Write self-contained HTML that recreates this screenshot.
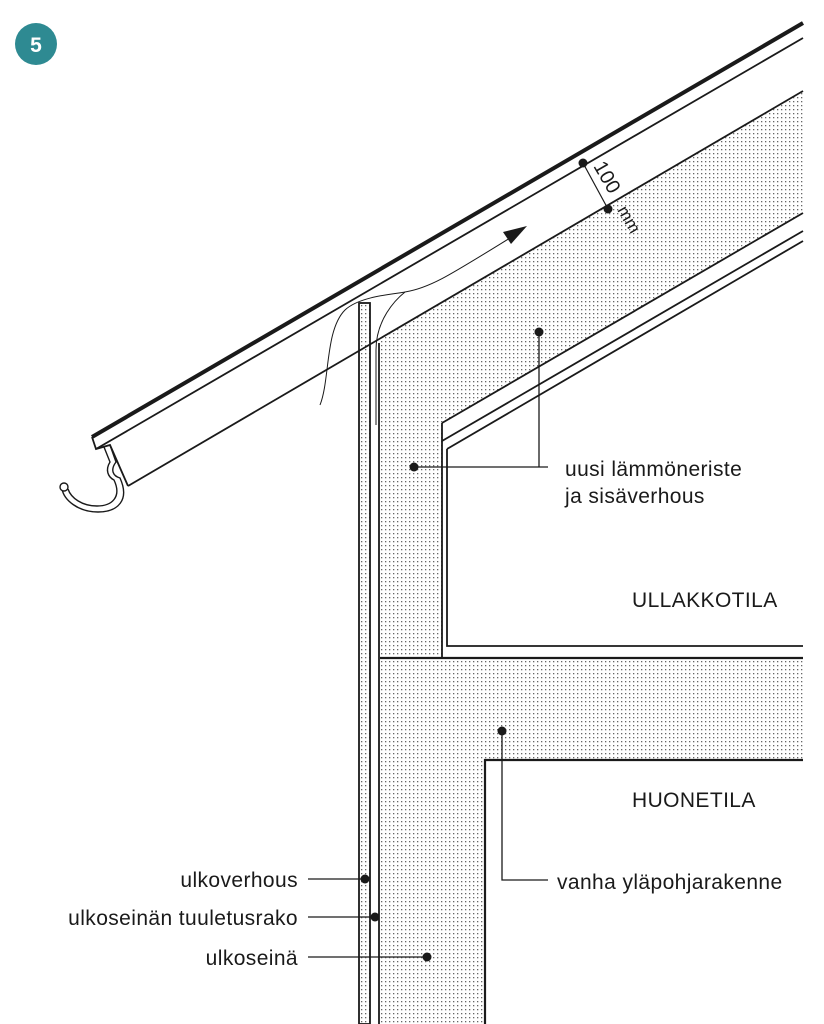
<!DOCTYPE html>
<html><head><meta charset="utf-8"><style>
html,body{margin:0;padding:0;background:#fff}
svg{display:block}
text{font-family:"Liberation Sans",Arial,sans-serif;fill:#1a1a1a}
</style></head><body>
<svg width="824" height="1024" viewBox="0 0 824 1024" xmlns="http://www.w3.org/2000/svg">
<defs>
<pattern id="dots" width="4" height="4" patternUnits="userSpaceOnUse">
<rect x="1" y="1" width="1.3" height="1.3" fill="#666"/>
</pattern>
</defs>
<circle cx="36" cy="44" r="21" fill="#2e8a92"/>
<text x="36" y="52" text-anchor="middle" font-size="21" font-weight="bold" style="fill:#fff">5</text>

<path d="M380,339 L803,91 L803,213 L442,423 L442,658 L803,658 L803,760 L485,760 L485,1024 L380,1024 Z" fill="url(#dots)"/>
<rect x="359" y="303" width="11" height="721" fill="url(#dots)"/>

<g stroke="#1a1a1a" fill="none" stroke-width="1.8">
<line x1="92" y1="437" x2="803" y2="23" stroke-width="4"/>
<line x1="96" y1="449" x2="803" y2="38"/>
<path d="M92,437 L96,449 L110,445 L128,486"/>
<line x1="128" y1="486" x2="803" y2="91"/>
<line x1="442" y1="423" x2="803" y2="213"/>
<line x1="442" y1="441" x2="803" y2="231"/>
<line x1="447" y1="449" x2="803" y2="241"/>
<line x1="442" y1="423" x2="442" y2="658"/>
<path d="M447,449 L447,646 L803,646"/>
<line x1="380" y1="658" x2="803" y2="658" stroke-width="2.2"/>
<path d="M485,1024 L485,760 L803,760" stroke-width="2.2"/>
<rect x="359" y="303" width="11" height="721"/>
<line x1="379" y1="343" x2="379" y2="1024"/>
<path d="M376,425 L376,350 C376,320 395,300 405,292" stroke-width="1"/>
<path d="M320,405 C330,380 325,330 345,310 C360,296 395,294 405,292 C430,288 450,275 510,238" stroke-width="1"/>
<line x1="583" y1="163" x2="608" y2="209" stroke-width="1.2"/>
<path d="M110,445 L116,462 C110,470 113,476 120,478 C130,500 118,512 98,512 C78,512 64,500 62,489" stroke-width="1.4"/>
<path d="M104,447 L110,462 C105,470 108,477 114,480 C122,497 112,506 97,506 C82,506 71,498 68,489" stroke-width="1.4"/>
<path d="M414,467 L548,467" stroke-width="1.3"/>
<path d="M539,332 L539,467" stroke-width="1.3"/>
<path d="M502,731 L502,880 L548,880" stroke-width="1.3"/>
<line x1="308" y1="879" x2="365" y2="879" stroke-width="1.2"/>
<line x1="308" y1="917" x2="375" y2="917" stroke-width="1.2"/>
<line x1="308" y1="957" x2="427" y2="957" stroke-width="1.2"/>
</g>
<circle cx="64" cy="487" r="4" fill="#fff" stroke="#1a1a1a" stroke-width="1.4"/>
<polygon points="527,226 503,232 511,244" fill="#1a1a1a"/>
<g fill="#1a1a1a">
<circle cx="583" cy="163" r="4.5"/><circle cx="608" cy="209" r="4.5"/>
<circle cx="539" cy="332" r="4.5"/><circle cx="414" cy="467" r="4.5"/>
<circle cx="502" cy="731" r="4.5"/><circle cx="365" cy="879" r="4.5"/>
<circle cx="375" cy="917" r="4.5"/><circle cx="427" cy="957" r="4.5"/>
</g>
<text transform="translate(593,166) rotate(60)" font-size="20">100</text>
<text transform="translate(617,210) rotate(60)" font-size="17">mm</text>
<g font-size="21" style="letter-spacing:0.4px">
<text x="565" y="476">uusi lämmöneriste</text>
<text x="565" y="503">ja sisäverhous</text>
<text x="632" y="607">ULLAKKOTILA</text>
<text x="632" y="807">HUONETILA</text>
<text x="557" y="889">vanha yläpohjarakenne</text>
<text x="298" y="887" text-anchor="end">ulkoverhous</text>
<text x="298" y="925" text-anchor="end">ulkoseinän tuuletusrako</text>
<text x="298" y="965" text-anchor="end">ulkoseinä</text>
</g>
</svg>
</body></html>
